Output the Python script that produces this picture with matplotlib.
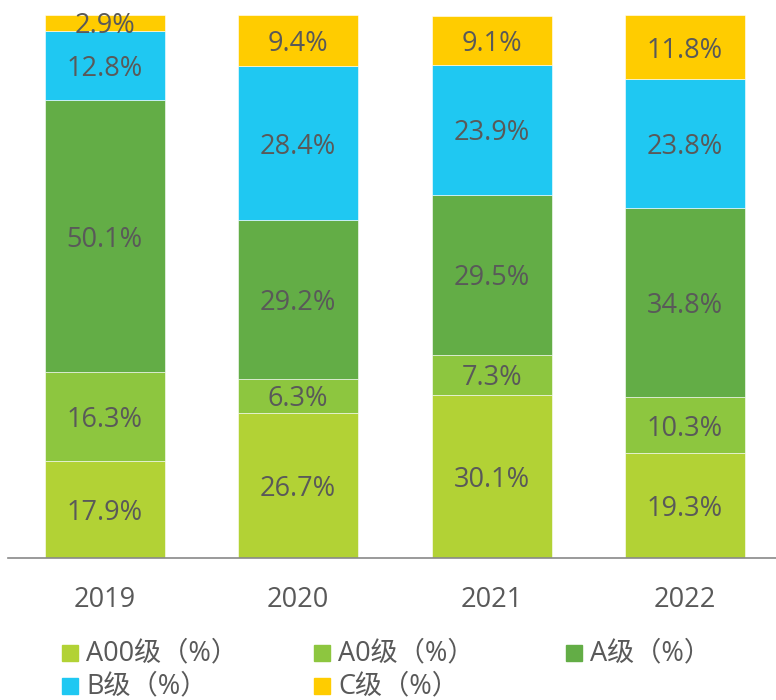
import numpy as np
import matplotlib.pyplot as plt
from matplotlib.patches import Rectangle

years = ['2019', '2020', '2021', '2022']
series = ['A00级（%）', 'A0级（%）', 'A级（%）', 'B级（%）', 'C级（%）']
a00 = [17.9, 26.7, 30.1, 19.3]
a0 = [16.3, 6.3, 7.3, 10.3]
a = [50.1, 29.2, 29.5, 34.8]
b = [12.8, 28.4, 23.9, 23.8]
c = [2.9, 9.4, 9.1, 11.8]
colors = ['#B2D235', '#8DC63F', '#63AD46', '#1FC8F2', '#FFCC00']

plt.rcParams['font.family'] = ['Open Sans', 'Noto Sans CJK SC', 'DejaVu Sans']
txt = '#595959'
fs = 19.5

fig = plt.figure(figsize=(7.76, 7.0), dpi=100)
ax = fig.add_axes([8 / 776, 142 / 700, 768 / 776, 543 / 700])

x = np.arange(len(years))
bottom = np.zeros(len(years))
for vals, col in zip([a00, a0, a, b, c], colors):
    vals = np.array(vals)
    bars = ax.bar(x, vals, width=0.62, bottom=bottom, color=col,
                  edgecolor='white', linewidth=0.4)
    for xi, v, b0 in zip(x, vals, bottom):
        ax.annotate('%.1f%%' % v, (xi, b0 + v / 2), xytext=(0, -2.5),
                    textcoords='offset points', ha='center', va='center',
                    color=txt, fontsize=fs)
    bottom += vals

ax.set_xlim(-0.5, 3.47)
ax.set_ylim(0, 100)
ax.set_xticks(x)
ax.set_xticklabels(years, fontsize=fs, color=txt)
ax.tick_params(axis='x', length=0, pad=20)
ax.set_yticks([])
for s in ['top', 'right', 'left']:
    ax.spines[s].set_visible(False)
ax.spines['bottom'].set_color('#898989')
ax.spines['bottom'].set_linewidth(1.2)

# legend, row by row
for i, (name, col) in enumerate(zip(series, colors)):
    row, colno = divmod(i, 3)
    lx = 62 + colno * 252
    ly = 653 + row * 33
    fig.add_artist(Rectangle((lx / 776, 1 - (ly + 8) / 700), 16 / 776, 16 / 700,
                             transform=fig.transFigure, color=col))
    fig.text((lx + 24) / 776, 1 - ly / 700, name, fontsize=fs, color=txt,
             va='center', ha='left')

fig.savefig('out.png', dpi=100)
